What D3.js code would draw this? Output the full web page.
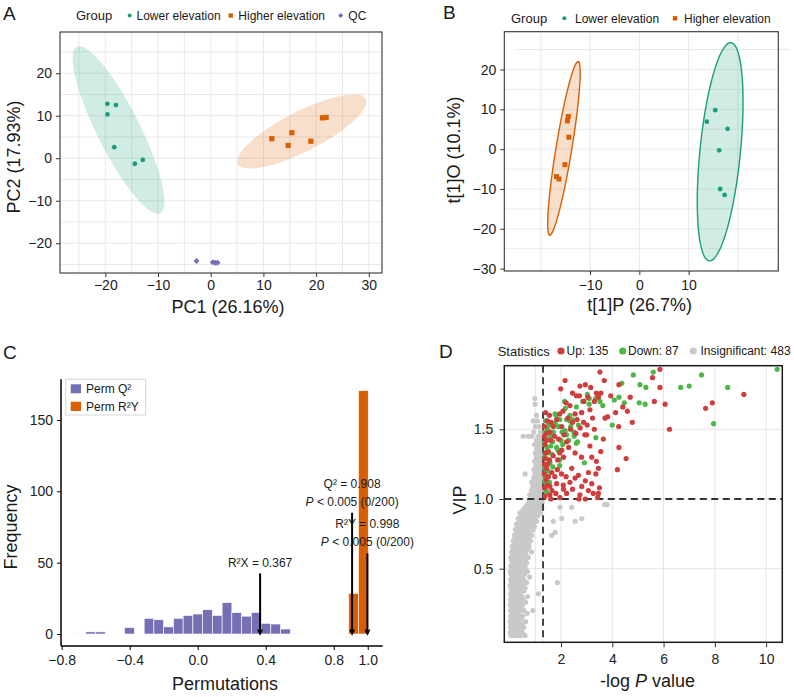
<!DOCTYPE html>
<html>
<head>
<meta charset="utf-8">
<script src="https://d3js.org/d3.v7.min.js"></script>
<title>PCA / OPLS-DA figure</title>
<style>
  body { margin: 0; background: #fff; }
</style>
</head>
<body>
<svg id="fig" width="794" height="697"></svg>
<script>
// ---------------- data ----------------
// A: PCA scores
const pcaLower = [[-19.6, 12.8], [-18.0, 12.5], [-19.6, 10.3], [-18.3, 2.6], [-14.4, -1.3], [-12.9, -0.4]];
const pcaHigher = [[11.6, 4.6], [15.4, 6.0], [14.7, 3.0], [19.0, 4.0], [21.2, 9.5], [21.9, 9.6]];
const pcaQC = [[-2.7, -24.2], [0.4, -24.5], [0.9, -24.6], [1.3, -24.6]];
// confidence ellipses: centre, semi-axis vectors (data units)
const pcaEllLower = {c: [-17.5, 6.65], u: [7.91, -19.6], v: [3.64, 2.26]};
const pcaEllHigher = {c: [17.3, 6.3], u: [12.14, 7.65], v: [1.72, -4.19]};

// B: OPLS-DA scores
const oplsLower = [[15.4, 9.8], [13.7, 6.9], [17.9, 5.1], [16.2, -0.3], [16.4, -10.0], [17.3, -11.5]];
const oplsHigher = [[-14.4, 8.2], [-14.6, 7.1], [-14.3, 3.0], [-15.1, -3.9], [-16.8, -6.9], [-16.3, -7.5]];
const oplsEllLower = {c: [16.4, -0.65], u: [2.2, 27.4], v: [4.09, -0.5]};
const oplsEllHigher = {c: [-15.3, 0.2], u: [2.89, 21.8], v: [1.585, -0.32]};

// C: permutation test histogram
const permBinStart = -0.716;
const permBinWidth = 0.0573;
const permQ2Counts = [0.5, 1.5, 1.5, 0, 0, 4.5, 0, 11, 10, 5, 11, 13, 14, 17, 13, 22, 15, 12.5, 15, 7.5, 7, 3.5, 0.5];
const permR2YBins = [[28, 28.5], [29, 170.5]];
const permStats = [
  {x: 0.367, top: 42.5, lines: ["R\u00b2X = 0.367"]},
  {x: 0.908, top: 85, lines: ["Q\u00b2 = 0.908", "P"]},
  {x: 0.998, top: 56.5, lines: ["R\u00b2Y = 0.998", "P"]}
];

// D: VIP vs -log P
const vipUp = [
  [5.86,1.93],[3.52,1.91],[5.57,1.87],[5.86,1.80],[5.64,1.70],[6.06,1.68],[6.23,1.50],[4.26,1.82],
  [3.94,1.74],[4.70,1.73],[4.41,1.66],[4.59,1.63],[4.13,1.62],[3.82,1.59],[4.78,1.55],[4.25,1.52],
  [3.72,1.58],[3.65,1.43],[4.26,1.37],[3.55,1.34],[4.54,1.29],[3.46,1.22],[4.20,1.21],[3.36,1.18],
  [3.46,1.04],[3.43,1.01],[3.69,1.85],[3.56,1.76],[3.46,1.73],[9.13,1.75],[7.90,1.69],[7.64,1.65],
  [2.16,1.85],[2.74,1.81],[2.95,1.82],[3.16,1.80],[2.60,1.74],[2.72,1.74],[1.99,1.79],[2.35,1.67],
  [2.81,1.62],[3.13,1.64],[3.23,1.58],[1.57,1.48],[1.44,1.47],[1.70,1.52],[2.03,1.52],[2.93,1.46],
  [3.13,1.38],[2.22,1.41],[2.03,1.35],[1.38,1.39],[1.51,1.34],[1.70,1.31],[1.87,1.28],[1.37,1.29],
  [1.44,1.22],[1.64,1.19],[1.86,1.21],[3.07,1.19],[2.42,1.22],[2.68,1.17],[1.51,1.16],[1.57,1.09],
  [1.83,1.11],[2.09,1.10],[2.35,1.12],[2.81,1.09],[3.20,1.11],[1.57,1.03],[1.96,1.01],[2.22,1.04],
  [2.74,1.03],[3.26,1.04],[3.07,1.06],
  [1.40,1.62],[1.55,1.60],[1.47,1.56],[1.62,1.55],[1.83,1.57],[1.95,1.61],[2.08,1.63],[2.27,1.58],
  [2.45,1.55],[2.55,1.61],[2.63,1.57],[2.37,1.50],[2.58,1.47],[2.75,1.51],[2.88,1.55],[3.02,1.53],
  [3.30,1.50],[3.05,1.73],[3.38,1.76],[3.30,1.70],[2.45,1.76],[2.88,1.70],[1.36,1.52],[1.34,1.45],
  [1.42,1.42],[1.60,1.42],[1.75,1.45],[1.90,1.43],[2.12,1.46],[2.30,1.37],[2.55,1.33],[2.80,1.30],
  [3.20,1.30],[3.38,1.27],[2.10,1.30],[1.95,1.33],[1.55,1.28],[1.40,1.33],[1.36,1.25],[1.48,1.25],
  [1.35,1.18],[1.42,1.14],[1.76,1.16],[2.02,1.18],[2.20,1.16],[2.55,1.15],[2.95,1.13],[1.36,1.08],
  [1.45,1.10],[1.65,1.06],[1.80,1.04],[2.45,1.07],[2.95,1.00],[2.70,1.00],[1.38,1.02],[1.60,1.00],
  [2.10,1.07],[3.50,1.08],[3.00,1.46],[2.20,1.69]
];
const vipDown = [
  [10.43,1.93],[8.50,1.80],[7.48,1.89],[7.00,1.81],[6.67,1.80],[7.95,1.54],[5.60,1.91],[4.82,1.89],
  [5.08,1.82],[5.31,1.80],[4.37,1.83],[4.26,1.73],[4.08,1.71],[4.47,1.69],[5.05,1.69],[5.28,1.68],
  [3.63,1.67],[3.52,1.70],[3.43,1.74],[3.72,1.58],[4.00,1.53],[3.36,1.44],
  [3.03,1.75],[2.85,1.70],[3.10,1.72],[2.17,1.65],[1.81,1.60],[2.16,1.49],[2.35,1.56],[2.51,1.45],
  [2.65,1.41],[1.83,1.37],[1.68,1.41],[1.48,1.43],[1.57,1.26],[2.91,1.26],[1.38,1.12],[1.44,1.05],
  [2.14,1.70],[2.35,1.60],[2.22,1.57],[1.77,1.61],[1.90,1.52],[2.04,1.48],[2.50,1.48],[2.68,1.53],
  [2.60,1.40],[2.07,1.39],[1.62,1.45],[1.52,1.43],[1.45,1.37],[1.39,1.33],[1.55,1.26],[1.95,1.28],
  [1.68,1.23],[1.40,1.20],[1.37,1.13],[1.42,1.06],[1.88,1.35],[2.22,1.46],[2.38,1.52],[1.78,1.54],
  [1.95,1.57],[2.45,1.57],[2.80,1.62],[3.10,1.68],[3.35,1.72],[2.90,1.70],[1.60,1.38],[1.43,1.29],
  [1.48,1.50],[1.35,1.40],[1.38,1.48],[1.50,1.20],[1.36,1.23],[1.65,1.32],[2.30,1.42],[1.70,1.48],
  [2.00,1.42],[1.53,1.53],[1.40,1.56],[2.60,1.66],[1.35,1.30],[1.55,1.12],[1.38,1.16],[1.95,1.24],
  [1.46,1.33]
];
// insignificant metabolites, one row per VIP level: [vip, [-log P values]]
const vipInsigRows = [
  [0.02, [0.05,0.18,0.30,0.42,0.60]],
  [0.04, [0.02,0.12,0.25,0.36,0.50]],
  [0.06, [0.08,0.20,0.33,0.45]],
  [0.08, [0.03,0.15,0.27,0.40,0.55]],
  [0.10, [0.06,0.18,0.30,0.48]],
  [0.12, [0.02,0.12,0.24,0.37,0.62]],
  [0.14, [0.08,0.20,0.32,0.44]],
  [0.16, [0.04,0.15,0.27,0.39,0.51]],
  [0.18, [0.10,0.22,0.35,0.68]],
  [0.20, [0.03,0.14,0.26,0.40,0.55,0.90]],
  [0.22, [0.08,0.19,0.31,0.46]],
  [0.24, [0.02,0.12,0.24,0.36,0.50]],
  [0.26, [0.07,0.18,0.29,0.42,0.62]],
  [0.28, [0.03,0.14,0.25,0.38,0.52]],
  [0.30, [0.09,0.20,0.33,0.47,0.70]],
  [0.32, [0.04,0.15,0.27,0.40,1.12]],
  [0.34, [0.10,0.22,0.35,0.55]],
  [0.36, [0.05,0.17,0.29,0.42,0.60]],
  [0.38, [0.02,0.13,0.24,0.37,0.50]],
  [0.40, [0.08,0.20,0.32,0.45,0.66,1.86]],
  [0.42, [0.04,0.16,0.28,0.41,0.55]],
  [0.44, [0.10,0.22,0.35,0.48,0.78]],
  [0.46, [0.06,0.18,0.30,0.44,0.58]],
  [0.48, [0.02,0.14,0.26,0.39,0.52,0.70]],
  [0.50, [0.09,0.21,0.34,0.47,0.62]],
  [0.52, [0.05,0.17,0.30,0.43,0.57]],
  [0.54, [0.12,0.24,0.37,0.50,0.66]],
  [0.56, [0.08,0.20,0.33,0.46,0.60]],
  [0.58, [0.04,0.16,0.29,0.42,0.55,0.72]],
  [0.60, [0.12,0.25,0.38,0.51,0.64]],
  [0.62, [0.08,0.21,0.34,0.47,0.60,0.85]],
  [0.64, [0.15,0.28,0.41,0.54,0.68]],
  [0.66, [0.10,0.24,0.37,0.50,0.63,0.76]],
  [0.68, [0.18,0.32,0.45,0.58,0.72]],
  [0.70, [0.14,0.28,0.41,0.54,0.67,0.82]],
  [0.72, [0.22,0.36,0.49,0.62,0.75]],
  [0.74, [0.18,0.32,0.45,0.58,0.71,0.86,1.64]],
  [0.76, [0.27,0.40,0.53,0.66,0.79,1.77]],
  [0.78, [0.22,0.36,0.49,0.62,0.75,0.90]],
  [0.80, [0.31,0.45,0.58,0.71,0.84,0.97]],
  [0.82, [0.27,0.41,0.54,0.67,0.80,0.93]],
  [0.84, [0.38,0.51,0.64,0.77,0.90,1.05,1.70,2.55]],
  [0.86, [0.33,0.47,0.60,0.73,0.86,0.99,2.03,2.81]],
  [0.88, [0.45,0.58,0.71,0.84,0.97,1.10]],
  [0.90, [0.40,0.54,0.67,0.80,0.93,1.06,1.20]],
  [0.92, [0.52,0.65,0.78,0.91,1.04,1.17]],
  [0.94, [0.60,0.73,0.86,0.99,1.12,1.25,1.96,2.42]],
  [0.96, [0.68,0.81,0.94,1.07,1.20,3.70,3.80]],
  [0.98, [0.75,0.88,1.01,1.14,1.27]],
  [1.00, [0.82,0.95,1.08,1.21]],
  [1.03, [0.78,0.92,1.05,1.18,1.28]],
  [1.06, [0.85,0.98,1.11,1.24]],
  [1.09, [0.90,1.03,1.16,1.27]],
  [1.12, [0.86,1.00,1.13,1.25]],
  [1.15, [0.93,1.06,1.19,1.28]],
  [1.18, [0.60,0.98,1.11,1.23]],
  [1.21, [0.95,1.08,1.20,1.28]],
  [1.24, [1.02,1.14,1.26]],
  [1.27, [0.97,1.10,1.22]],
  [1.30, [1.04,1.16,1.27]],
  [1.33, [1.00,1.12,1.24]],
  [1.36, [1.06,1.18]],
  [1.39, [0.97,1.10,1.22]],
  [1.42, [1.04,1.16,1.27]],
  [1.45, [0.53,0.73,0.86,1.12]],
  [1.48, [0.94,1.20]],
  [1.52, [1.00,1.15]],
  [1.56, [0.92,1.08]],
  [1.60, [1.04]],
  [1.68, [0.99]],
  [1.72, [0.98]]
];
const vipLegend = [["Up: 135", "#cf3d3d"], ["Down: 87", "#4db848"], ["Insignificant: 483", "#c9c9c9"]];

// ---------------- drawing ----------------
const FONT = '"Liberation Sans", Arial, Helvetica, sans-serif';
const GREEN = "#1b9e77", ORANGE = "#d95f02", PURPLE = "#7570b3";
const svg = d3.select("#fig").attr("font-family", FONT);
svg.append("rect").attr("width", 794).attr("height", 697).attr("fill", "#fff");

function txt(g, x, y, s, size, anchor) {
  return g.append("text").attr("x", x).attr("y", y).attr("font-size", size)
          .attr("text-anchor", anchor || "start").attr("fill", "#1a1a1a").text(s);
}
function vtxt(g, x, y, s, size) {
  return g.append("text").attr("transform", `translate(${x},${y}) rotate(-90)`)
          .attr("font-size", size).attr("text-anchor", "middle").attr("fill", "#1a1a1a").text(s);
}
function styleAxis(sel) {
  sel.attr("font-family", FONT).attr("font-size", 14);
  sel.select(".domain").remove();
  sel.selectAll(".tick line").attr("stroke", "#333");
  sel.selectAll(".tick text").attr("fill", "#222");
}
function ellipsePath(e, sx, sy) {
  const pts = d3.range(0, 361, 4).map(t => {
    const a = t * Math.PI / 180;
    return [sx(e.c[0] + Math.cos(a) * e.u[0] + Math.sin(a) * e.v[0]),
            sy(e.c[1] + Math.cos(a) * e.u[1] + Math.sin(a) * e.v[1])];
  });
  return d3.line()(pts) + "Z";
}
function square(g, x, y, s, fill) {
  g.append("rect").attr("x", x - s / 2).attr("y", y - s / 2).attr("width", s).attr("height", s).attr("fill", fill);
}
function diamond(g, x, y, s, fill) {
  g.append("path").attr("d", `M${x},${y - s}L${x + s},${y}L${x},${y + s}L${x - s},${y}Z`).attr("fill", fill);
}

// ===== Panel A =====
const gA = svg.append("g");
const xA = d3.scaleLinear().domain([-28.6, 32.5]).range([60, 382]);
const yA = d3.scaleLinear().domain([-27, 29.7]).range([273, 32]);
gA.selectAll(".gv").data(d3.range(-25, 31, 5)).join("line")
  .attr("x1", d => xA(d)).attr("x2", d => xA(d)).attr("y1", 32).attr("y2", 273)
  .attr("stroke", "#e9e9e9").attr("stroke-width", 1);
gA.selectAll(".gh").data(d3.range(-25, 26, 5)).join("line")
  .attr("y1", d => yA(d)).attr("y2", d => yA(d)).attr("x1", 60).attr("x2", 382)
  .attr("stroke", "#e9e9e9").attr("stroke-width", 1);
gA.append("path").attr("d", ellipsePath(pcaEllLower, xA, yA)).attr("fill", GREEN).attr("fill-opacity", 0.2);
gA.append("path").attr("d", ellipsePath(pcaEllHigher, xA, yA)).attr("fill", ORANGE).attr("fill-opacity", 0.2);
pcaLower.forEach(d => gA.append("circle").attr("cx", xA(d[0])).attr("cy", yA(d[1])).attr("r", 2.4).attr("fill", GREEN));
pcaHigher.forEach(d => square(gA, xA(d[0]), yA(d[1]), 5.2, ORANGE));
pcaQC.forEach(d => diamond(gA, xA(d[0]), yA(d[1]), 3, PURPLE));
gA.append("rect").attr("x", 60).attr("y", 32).attr("width", 322).attr("height", 241)
  .attr("fill", "none").attr("stroke", "#333").attr("stroke-width", 1.1);
gA.append("g").attr("transform", "translate(0,273)")
  .call(d3.axisBottom(xA).tickValues([-20, -10, 0, 10, 20, 30]).tickSize(4).tickPadding(3)).call(styleAxis);
gA.append("g").attr("transform", "translate(60,0)")
  .call(d3.axisLeft(yA).tickValues([-20, -10, 0, 10, 20]).tickSize(4).tickPadding(4)).call(styleAxis);
txt(gA, 228, 313, "PC1 (26.16%)", 18, "middle");
vtxt(gA, 20, 157, "PC2 (17.93%)", 18);
txt(gA, 3, 20, "A", 19);
txt(gA, 76, 20, "Group", 13);
gA.append("circle").attr("cx", 129.7).attr("cy", 15.5).attr("r", 2).attr("fill", GREEN);
txt(gA, 136.5, 20, "Lower elevation", 12);
square(gA, 230.7, 15.5, 4.4, ORANGE);
txt(gA, 238.3, 20, "Higher elevation", 12);
diamond(gA, 340.7, 15.5, 2.6, PURPLE);
txt(gA, 348.3, 20, "QC", 12);

// ===== Panel B =====
const gB = svg.append("g");
const xB = d3.scaleLinear().domain([-27.4, 28.2]).range([504.3, 778.3]);
const yB = d3.scaleLinear().domain([-30.6, 29.5]).range([271, 31.7]);
gB.selectAll(".gv").data([-20, -10, 0, 10, 20]).join("line")
  .attr("x1", d => xB(d)).attr("x2", d => xB(d)).attr("y1", 31.7).attr("y2", 271)
  .attr("stroke", "#e9e9e9").attr("stroke-width", 1);
gB.selectAll(".gh").data(d3.range(-25, 21, 5)).join("line")
  .attr("y1", d => yB(d)).attr("y2", d => yB(d)).attr("x1", 504.3).attr("x2", 778.3)
  .attr("stroke", "#ececec").attr("stroke-width", 1);
gB.append("line").attr("x1", 516).attr("x2", 790).attr("y1", yB(25)).attr("y2", yB(25))
  .attr("stroke", "#e6e6e6").attr("stroke-width", 1);
gB.append("path").attr("d", ellipsePath(oplsEllHigher, xB, yB)).attr("fill", ORANGE).attr("fill-opacity", 0.2)
  .attr("stroke", ORANGE).attr("stroke-width", 1.4);
gB.append("path").attr("d", ellipsePath(oplsEllLower, xB, yB)).attr("fill", GREEN).attr("fill-opacity", 0.2)
  .attr("stroke", GREEN).attr("stroke-width", 1.4);
oplsLower.forEach(d => gB.append("circle").attr("cx", xB(d[0])).attr("cy", yB(d[1])).attr("r", 2.4).attr("fill", GREEN));
oplsHigher.forEach(d => square(gB, xB(d[0]), yB(d[1]), 5, ORANGE));
gB.append("rect").attr("x", 504.3).attr("y", 31.7).attr("width", 274).attr("height", 239.3)
  .attr("fill", "none").attr("stroke", "#333").attr("stroke-width", 1.1);
gB.append("g").attr("transform", "translate(0,271)")
  .call(d3.axisBottom(xB).tickValues([-10, 0, 10]).tickSize(4).tickPadding(5)).call(styleAxis);
gB.append("g").attr("transform", "translate(504.3,0)")
  .call(d3.axisLeft(yB).tickValues([-30, -20, -10, 0, 10, 20]).tickSize(4).tickPadding(4)).call(styleAxis);
txt(gB, 639.7, 311, "t[1]P (26.7%)", 18, "middle");
vtxt(gB, 460, 150, "t[1]O (10.1%)", 18);
txt(gB, 443, 19, "B", 19);
txt(gB, 511, 23, "Group", 13);
gB.append("circle").attr("cx", 564.3).attr("cy", 18.3).attr("r", 2).attr("fill", GREEN);
txt(gB, 575, 22.5, "Lower elevation", 12);
square(gB, 675, 18.3, 4.4, ORANGE);
txt(gB, 684, 22.5, "Higher elevation", 12);

// ===== Panel C =====
const gC = svg.append("g");
const xC = d3.scaleLinear().domain([-0.804, 1.088]).range([61, 382.7]);
const yC = d3.scaleLinear().domain([-8.4, 178.5]).range([646, 379.3]);
permQ2Counts.forEach((n, i) => {
  if (n <= 0) return;
  const x0 = permBinStart + i * permBinWidth;
  gC.append("rect").attr("x", xC(x0)).attr("width", xC(x0 + permBinWidth) - xC(x0))
    .attr("y", yC(n)).attr("height", yC(0) - yC(n))
    .attr("fill", PURPLE).attr("stroke", "#fff").attr("stroke-width", 0.6);
});
permR2YBins.forEach(([i, n]) => {
  const x0 = permBinStart + i * permBinWidth;
  gC.append("rect").attr("x", xC(x0)).attr("width", xC(x0 + permBinWidth) - xC(x0))
    .attr("y", yC(n)).attr("height", yC(0) - yC(n))
    .attr("fill", ORANGE).attr("stroke", "#fff").attr("stroke-width", 0.6);
});
permStats.forEach(s => {
  const x = xC(s.x), y0 = yC(0), y1 = yC(s.top);
  gC.append("line").attr("x1", x).attr("x2", x).attr("y1", y1).attr("y2", y0)
    .attr("stroke", "#000").attr("stroke-width", 2);
  gC.append("path").attr("d", `M${x - 2.2},${y0 - 4.5}L${x},${y0}L${x + 2.2},${y0 - 4.5}`)
    .attr("fill", "none").attr("stroke", "#000").attr("stroke-width", 1.6);
  if (s.lines.length === 1) {
    txt(gC, x, y1 - 6, s.lines[0], 12, "middle");
  } else {
    txt(gC, x, y1 - 25, s.lines[0], 12, "middle");
    const t = txt(gC, x, y1 - 7, "", 12, "middle");
    t.append("tspan").attr("font-style", "italic").text("P");
    t.append("tspan").text(" < 0.005 (0/200)");
  }
});
gC.append("line").attr("x1", 61).attr("x2", 382.7).attr("y1", 646).attr("y2", 646).attr("stroke", "#000").attr("stroke-width", 1.5);
gC.append("line").attr("x1", 61).attr("x2", 61).attr("y1", 379.3).attr("y2", 646).attr("stroke", "#000").attr("stroke-width", 1.5);
gC.append("g").attr("transform", "translate(0,646)")
  .call(d3.axisBottom(xC).tickValues([-0.8, -0.4, 0, 0.4, 0.8, 1.0]).tickFormat(d3.format(".1f")).tickSize(4).tickPadding(5))
  .call(styleAxis).call(g => g.selectAll(".tick line").attr("stroke", "#000"));
gC.append("g").attr("transform", "translate(61,0)")
  .call(d3.axisLeft(yC).tickValues([0, 50, 100, 150]).tickSize(4).tickPadding(4))
  .call(styleAxis).call(g => g.selectAll(".tick line").attr("stroke", "#000"));
txt(gC, 225, 690, "Permutations", 18, "middle");
vtxt(gC, 17, 527, "Frequency", 18);
txt(gC, 3, 359, "C", 19);
gC.append("rect").attr("x", 65.7).attr("y", 379.3).attr("width", 80).attr("height", 35.7)
  .attr("fill", "#fff").attr("stroke", "#d6d6d6").attr("stroke-width", 1);
gC.append("rect").attr("x", 70.7).attr("y", 384.3).attr("width", 10.3).attr("height", 9).attr("fill", PURPLE);
gC.append("rect").attr("x", 70.7).attr("y", 401.7).attr("width", 10.3).attr("height", 9.3).attr("fill", ORANGE);
txt(gC, 86, 393, "Perm Q\u00b2", 12);
txt(gC, 86, 410.5, "Perm R\u00b2Y", 12);

// ===== Panel D =====
const gD = svg.append("g");
const xD = d3.scaleLinear().domain([-0.21, 10.63]).range([504.3, 782.3]);
const yD = d3.scaleLinear().domain([-0.028, 1.956]).range([642.3, 365.7]);
gD.selectAll(".gv").data([1, 2, 4, 6, 8, 10]).join("line")
  .attr("x1", d => xD(d)).attr("x2", d => xD(d)).attr("y1", 365.7).attr("y2", 642.3)
  .attr("stroke", "#e4e4e4").attr("stroke-width", 1);
gD.selectAll(".gh").data([0.5, 1.0, 1.5]).join("line")
  .attr("y1", d => yD(d)).attr("y2", d => yD(d)).attr("x1", 504.3).attr("x2", 782.3)
  .attr("stroke", "#e4e4e4").attr("stroke-width", 1);
const insig = vipInsigRows.flatMap(([v, xs]) => xs.map(x => [x, v]));
gD.selectAll(".pi").data(insig).join("circle")
  .attr("cx", d => xD(d[0])).attr("cy", d => yD(d[1])).attr("r", 2.6).attr("fill", "#c9c9c9");
gD.append("line").attr("x1", 504.3).attr("x2", 782.3).attr("y1", yD(1)).attr("y2", yD(1))
  .attr("stroke", "#333").attr("stroke-width", 1.8).attr("stroke-dasharray", "7,4.5");
gD.append("line").attr("x1", xD(1.301)).attr("x2", xD(1.301)).attr("y1", 365.7).attr("y2", 642.3)
  .attr("stroke", "#333").attr("stroke-width", 1.8).attr("stroke-dasharray", "7,4.5");
gD.selectAll(".pd").data(vipDown).join("circle")
  .attr("cx", d => xD(d[0])).attr("cy", d => yD(d[1])).attr("r", 2.6).attr("fill", "#4db848");
gD.selectAll(".pu").data(vipUp).join("circle")
  .attr("cx", d => xD(d[0])).attr("cy", d => yD(d[1])).attr("r", 2.6).attr("fill", "#cf3d3d");
gD.append("rect").attr("x", 504.3).attr("y", 365.7).attr("width", 278).attr("height", 276.6)
  .attr("fill", "none").attr("stroke", "#1a1a1a").attr("stroke-width", 1.5);
gD.append("g").attr("transform", "translate(0,642.3)")
  .call(d3.axisBottom(xD).tickValues([2, 4, 6, 8, 10]).tickSize(5).tickPadding(7)).call(styleAxis);
gD.append("g").attr("transform", "translate(504.3,0)")
  .call(d3.axisLeft(yD).tickValues([0.5, 1.0, 1.5]).tickFormat(d3.format(".1f")).tickSize(5).tickPadding(6)).call(styleAxis);
const tD = txt(gD, 647.5, 686.5, "", 18, "middle");
tD.append("tspan").text("-log ");
tD.append("tspan").attr("font-style", "italic").text("P");
tD.append("tspan").text(" value");
vtxt(gD, 466, 500, "VIP", 18);
txt(gD, 439, 358, "D", 19);
txt(gD, 497.7, 355.5, "Statistics", 13);
const legX = [[561, 566.5], [622.7, 628], [693.3, 700.5]];
vipLegend.forEach((d, i) => {
  gD.append("circle").attr("cx", legX[i][0]).attr("cy", 351).attr("r", 3.6).attr("fill", d[1]);
  txt(gD, legX[i][1], 355.3, d[0], 12);
});
</script>
</body>
</html>
